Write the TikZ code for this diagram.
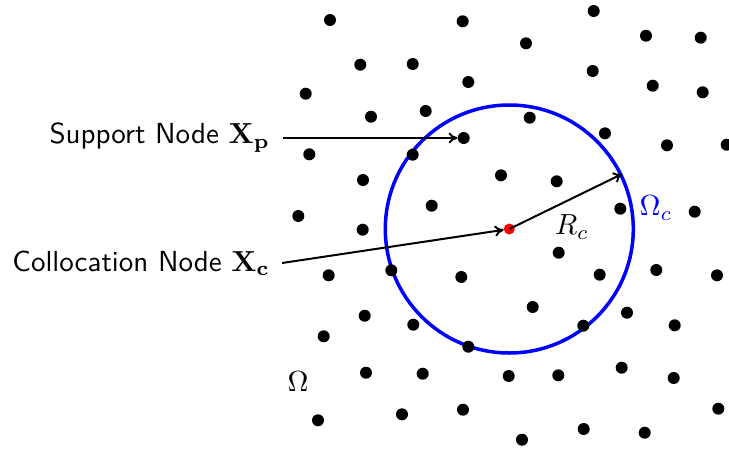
\documentclass[tikz,border=0pt]{standalone}
\usepackage{graphicx}
\usepackage{amsmath}
\usetikzlibrary{arrows.meta}
\newcommand{\bigtxt}[1]{\scalebox{2.9}{#1}}
\begin{document}
\begin{tikzpicture}[x=1pt,y=-1pt,
  pt/.style={circle,fill=black,inner sep=0pt,minimum size=12pt},
  redpt/.style={circle,fill=red,inner sep=0pt,minimum size=11pt},
  lbl/.style={font=\sffamily,inner ysep=0pt,inner xsep=0pt,anchor=east},
  mlbl/.style={inner sep=0pt},
  arr/.style={-{Computer Modern Rightarrow[length=9pt,width=11pt]},line width=2pt},
  dom/.style={draw=blue,line width=3.5pt,circle,minimum size=248pt,inner sep=0pt}
]
\useasboundingbox (0,0) rectangle (729,448);
% domain circle
\node[dom] (omc) at (509.3,229) {};
% scattered nodes
\foreach \x/\y [count=\i] in {330/20, 462.7/21.3, 593.7/11, 526/43.3, 646/35.7, 700.7/37.7,
  360.3/64.7, 412.7/64, 468.3/82, 592.7/71, 652.7/85.7, 702.7/92.3, 305.7/93.7,
  371/116.7, 425.7/111, 529.7/117.7, 605/133.3, 667/145.3, 726.7/144.7,
  309.3/154.3, 412.7/154.7, 501/175.3, 556.7/181.3, 363/180, 431.7/205.7,
  620.3/208.7, 694.7/211.7, 298.3/216, 362.7/229.7, 558.7/252.7, 328.7/275.3,
  391.3/270.3, 461.3/277, 599.7/274.7, 656.3/270, 717/275.3, 532.7/307,
  627/312.7, 674.7/325.3, 364.7/315.7, 413.3/324.7, 583.3/325.7, 323.7/336.3,
  468.3/346.7, 366/372.7, 422.7/373.7, 508.7/376, 558.3/375.3, 621.7/367.7,
  673.7/378, 318/420.3, 402/414.3, 463/409.7, 718.3/408.7, 583.7/429,
  644.7/432.7, 522/439.7}
  \node[pt] (d\i) at (\x,\y) {};
% support node
\node[pt] (sp) at (463.7,138) {};
% collocation node
\node[redpt] (cn) at (509.3,229) {};
% labels
\node[lbl] (spl) at (270,137.5) {\bigtxt{Support Node $\mathbf{X_p}$}};
\node[lbl] (cnl) at (270,263.5) {\bigtxt{Collocation Node $\mathbf{X_c}$}};
\coordinate (spa) at (283,138);
\coordinate (cna) at (282,263);
\draw[arr] (spa) -- (sp.west);
\draw[arr] (cna) -- (cn);
\draw[arr] (cn.center) -- (omc.26.5);
\node[mlbl] (rc) at (572,227) {\bigtxt{$R_c$}};
\node[mlbl,text=blue] (omlbl) at (656,208) {\bigtxt{$\Omega_c$}};
\node[mlbl] (om) at (298,382) {\bigtxt{$\Omega$}};
\end{tikzpicture}
\end{document}
